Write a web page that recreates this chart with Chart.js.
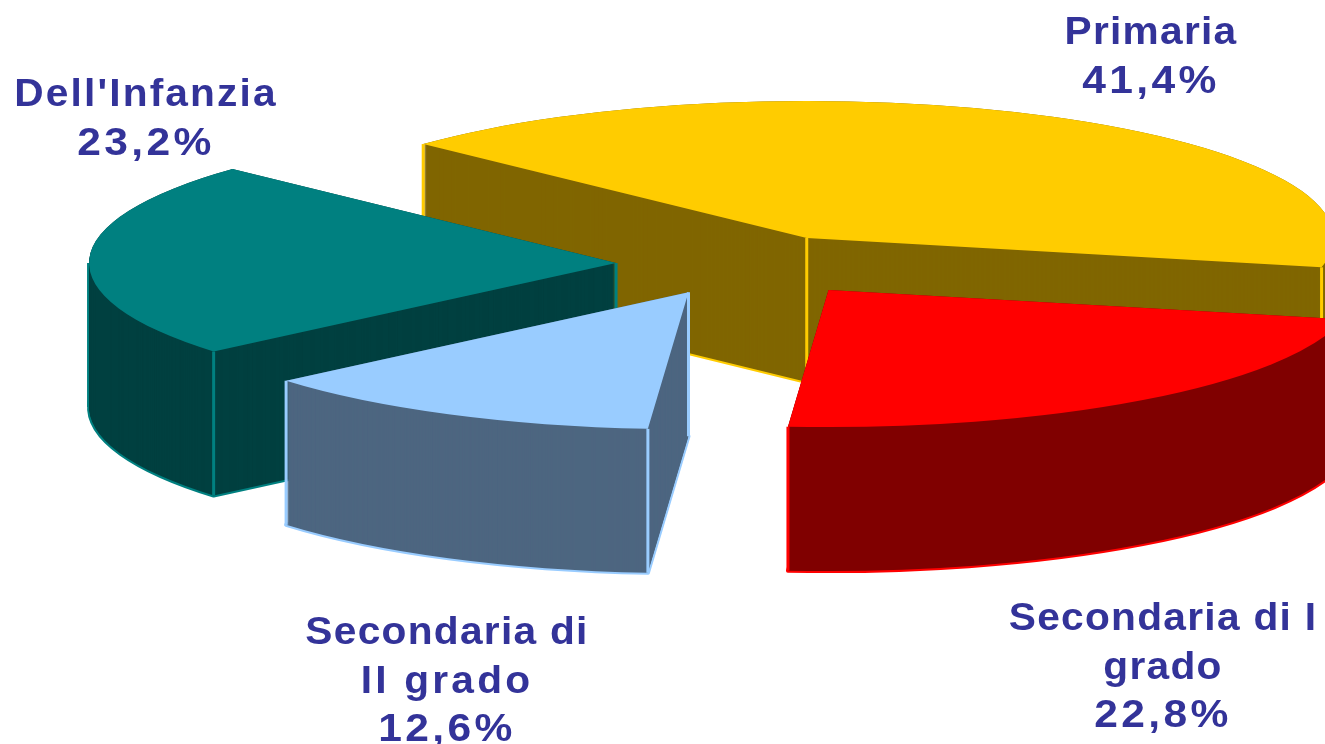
<!DOCTYPE html>
<html>
<head>
<meta charset="utf-8">
<title>Scuole</title>
<script src="https://cdn.jsdelivr.net/npm/chart.js@4"></script>
<style>
    html, body { margin: 0; padding: 0; background: #fff; overflow: hidden; }
    canvas { display: block; }
</style>
</head>
<body>
<canvas id="myChart" width="1325" height="744"></canvas>
<script>
const categories = ['Primaria', 'Secondaria di I grado', 'Secondaria di II grado', "Dell'Infanzia"];
const values = [41.4, 22.8, 12.6, 23.2];
const topColors = ['#FFCC00', '#FF0000', '#99CCFF', '#008080'];
const wallColors = ['#806600', '#800000', '#4D6680', '#004040'];

// how far each slice is pulled out of the pie, plus small corrections
const explode = [113, 125, 135, 139];
const nudgeX = [0, 0, -4, 1];
const nudgeY = [0, 0, -3, 0];
// back to front
const drawOrder = [0, 3, 1, 2];
// the red slice hides its inner corner
const showApex = [true, false, true, true];

// label wrapping and place, same order as categories
const labelLines = [['Primaria'], ['Secondaria di I', 'grado'], ['Secondaria di', 'II grado'], ["Dell'Infanzia"]];
const labelSpacing = [[1.2], [1.2, 1.2], [1.2, 3], [2]];
const labelX = [1151, 1163, 447, 146];
const labelY = [44, 630, 644, 106];
const lineStep = 48.5;

const pieCenter = { x: 754, y: 264 };
const tilt = 0.26;
const depth = 144;

function placeSlice(ctx, arc, i, dz) {
    const half = (arc.startAngle + arc.endAngle) / 2;
    ctx.translate(pieCenter.x + nudgeX[i] + explode[i] * Math.cos(half), pieCenter.y + nudgeY[i] + explode[i] * Math.sin(half) * tilt + dz);
    ctx.scale(1, tilt);
    ctx.translate(-arc.x, -arc.y);
}

function strokeBottom(ctx, arc, i) {
    ctx.save();
    placeSlice(ctx, arc, i, depth);
    ctx.beginPath();
    ctx.moveTo(arc.x, arc.y);
    ctx.arc(arc.x, arc.y, arc.outerRadius, arc.startAngle, arc.endAngle);
    ctx.closePath();
    ctx.restore();
    ctx.strokeStyle = topColors[i];
    ctx.lineWidth = 4;
    ctx.lineJoin = 'round';
    ctx.stroke();
}

function strokeEdge(ctx, arc, i, px, py, width) {
    ctx.beginPath();
    ctx.save();
    placeSlice(ctx, arc, i, 0);
    ctx.moveTo(px, py);
    ctx.restore();
    ctx.save();
    placeSlice(ctx, arc, i, depth);
    ctx.lineTo(px, py);
    ctx.restore();
    ctx.strokeStyle = topColors[i];
    ctx.lineWidth = width;
    ctx.stroke();
}

function strokeRim(ctx, arc, i, a, width) {
    strokeEdge(ctx, arc, i, arc.x + arc.outerRadius * Math.cos(a), arc.y + arc.outerRadius * Math.sin(a), width);
}

const pie3d = {
    id: 'pie3d',
    beforeDatasetsDraw(chart) {
        const ctx = chart.ctx;
        const arcs = chart.getDatasetMeta(0).data;

        drawOrder.forEach(i => {
            const arc = arcs[i];
            const topOptions = arc.options;
            strokeBottom(ctx, arc, i);
            // silhouette where the rim turns straight down
            for (let k = -2; k <= 4; k++) {
                if (k * Math.PI > arc.startAngle && k * Math.PI < arc.endAngle) {
                    strokeRim(ctx, arc, i, k * Math.PI, 4);
                }
            }
            arc.options = { ...topOptions, backgroundColor: wallColors[i] };
            for (let dz = depth; dz >= 0; dz--) {
                ctx.save();
                placeSlice(ctx, arc, i, dz);
                arc.draw(ctx);
                ctx.restore();
            }
            arc.options = topOptions;
            strokeRim(ctx, arc, i, arc.startAngle, 3);
            strokeRim(ctx, arc, i, arc.endAngle, 3);
            if (showApex[i]) {
                strokeEdge(ctx, arc, i, arc.x, arc.y, 3);
            }
        });

        // tops never get covered by another slice wall
        arcs.forEach((arc, i) => {
            ctx.save();
            placeSlice(ctx, arc, i, 0);
            arc.draw(ctx);
            ctx.restore();
        });
    },
    beforeDatasetDraw() {
        return false;
    },
    afterDraw(chart) {
        const ctx = chart.ctx;
        ctx.save();
        ctx.fillStyle = '#333399';
        ctx.font = 'bold 38px "Liberation Sans"';
        ctx.textAlign = 'center';
        ctx.textBaseline = 'alphabetic';
        categories.forEach((name, i) => {
            labelLines[i].forEach((line, n) => {
                ctx.save();
                ctx.letterSpacing = labelSpacing[i][n] + 'px';
                ctx.translate(labelX[i], labelY[i] + n * lineStep);
                ctx.scale(1.07, 1);
                ctx.fillText(line, 0, 0);
                ctx.restore();
            });
            ctx.save();
            ctx.letterSpacing = '3px';
            ctx.translate(labelX[i], labelY[i] + labelLines[i].length * lineStep);
            ctx.scale(1.12, 1);
            ctx.fillText(values[i].toFixed(1).replace('.', ',') + '%', 0, 0);
            ctx.restore();
        });
        ctx.restore();
    }
};

new Chart(document.getElementById('myChart').getContext('2d'), {
    type: 'pie',
    data: {
        labels: categories,
        datasets: [{
            data: values,
            backgroundColor: topColors,
            borderWidth: 0
        }]
    },
    options: {
        responsive: false,
        animation: false,
        radius: 527,
        rotation: 313.3,
        plugins: {
            legend: { display: false },
            tooltip: { enabled: false }
        }
    },
    plugins: [pie3d]
});
</script>
</body>
</html>
